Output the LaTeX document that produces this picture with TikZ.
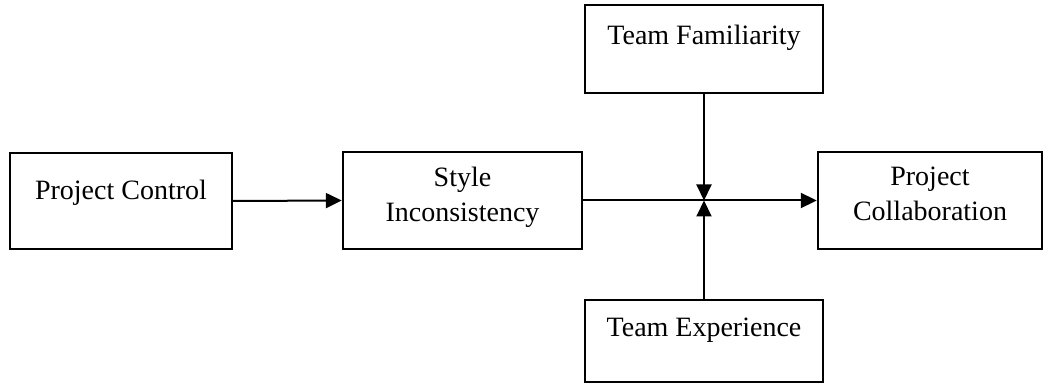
\documentclass[tikz,border=0pt]{standalone}
\usepackage{fontspec}
\setmainfont{Liberation Serif}
\usetikzlibrary{arrows.meta}

\begin{document}
\begin{tikzpicture}[x=0.5pt,y=-0.5pt,>={Triangle[length=8pt,width=7.5pt]},
  box/.style={draw,line width=1.2pt,inner sep=0pt},
  lbl/.style={align=center,font=\fontsize{14}{17.5}\selectfont}]
\useasboundingbox (0,0) rectangle (1046,385);
% boxes
\node[box,minimum width=222pt*0.5,minimum height=96pt*0.5] (ctrl) at (121,201) {};
\node[box,minimum width=239pt*0.5,minimum height=97pt*0.5] (style) at (462.5,200.5) {};
\node[box,minimum width=224pt*0.5,minimum height=97pt*0.5] (collab) at (930,200.5) {};
\node[box,minimum width=238pt*0.5,minimum height=88pt*0.5] (fam) at (704,49) {};
\node[box,minimum width=238pt*0.5,minimum height=82pt*0.5] (exp) at (704,341) {};
% texts
\node[lbl] (ctrl-t) at (121,193) {Project Control};
\node[lbl] (style-t) at (462.5,197) {Style\\Inconsistency};
\node[lbl] (collab-t) at (930,194) {Project\\Collaboration};
\node[lbl] (fam-t) at (704,38) {Team Familiarity};
\node[lbl] (exp-t) at (704,330) {Team Experience};
% arrows
\coordinate (mid) at (fam.south |- style.east);
\draw[->,line width=1pt] (ctrl.east) -- (style.west);
\draw[->,line width=1pt] (style.east) -- (collab.west);
\draw[->,line width=1pt] (fam.south) -- (mid);
\draw[->,line width=1pt] (exp.north) -- (mid);
\end{tikzpicture}
\end{document}
